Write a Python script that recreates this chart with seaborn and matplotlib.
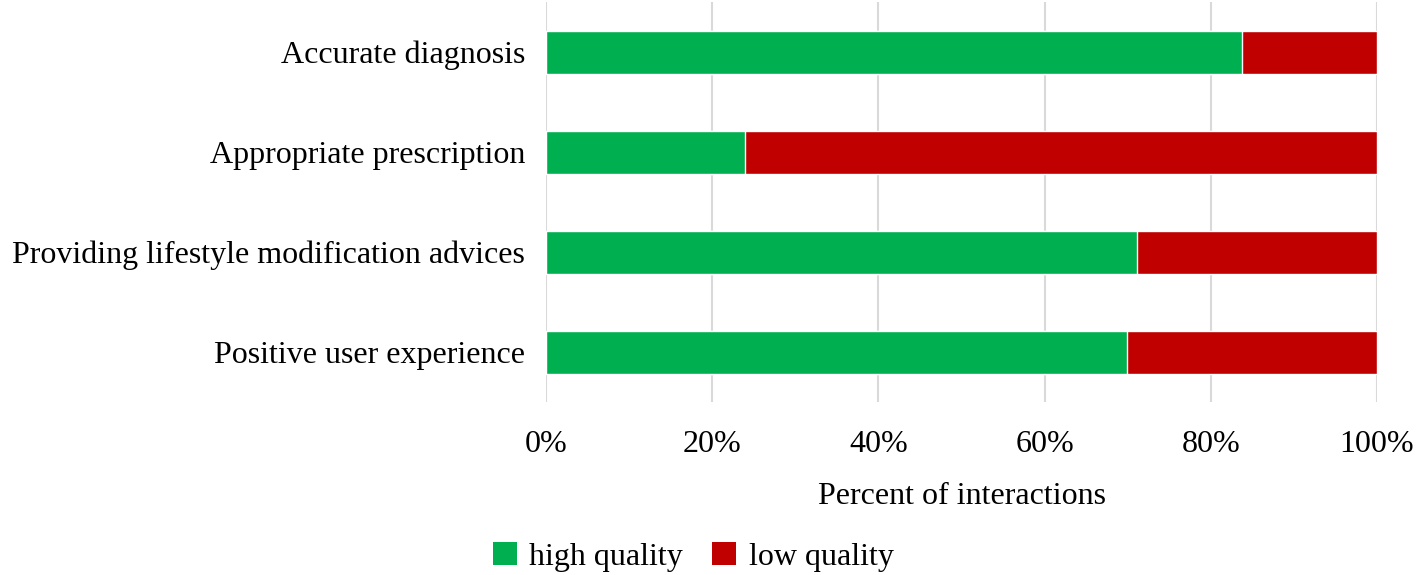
import matplotlib
matplotlib.use("Agg")
import matplotlib.pyplot as plt
import seaborn as sns
import pandas as pd
from matplotlib.patches import Patch
from matplotlib.ticker import PercentFormatter

categories = ["Accurate diagnosis", "Appropriate prescription",
              "Providing lifestyle modification advices", "Positive user experience"]
high_quality = [83.7, 23.9, 71.1, 69.9]
low_quality = [16.3, 76.1, 28.9, 30.1]
series_names = ["high quality", "low quality"]
colors = ["#00B050", "#C00000"]

df = pd.DataFrame({"category": categories,
                   "high": high_quality,
                   "total": [h + l for h, l in zip(high_quality, low_quality)]})

sns.set_theme(style="white")
plt.rcParams["font.family"] = ["Liberation Serif", "DejaVu Serif"]
plt.rcParams["text.color"] = "black"
plt.rcParams["axes.labelcolor"] = "black"

FS = 23

fig = plt.figure(figsize=(14.16, 5.75), dpi=100)
ax = fig.add_axes([546 / 1416, 1 - 402 / 575, (1377 - 546) / 1416, 400 / 575])

sns.barplot(data=df, y="category", x="total", color=colors[1], width=0.43,
            ax=ax, orient="h", saturation=1, zorder=3)
sns.barplot(data=df, y="category", x="high", color=colors[0], width=0.43,
            ax=ax, orient="h", saturation=1, zorder=4)

ax.set_xlim(0, 100)
ax.set_ylim(3.5, -0.5)
ax.set_xticks([0, 20, 40, 60, 80, 100])
ax.xaxis.set_major_formatter(PercentFormatter(decimals=0))
ax.grid(axis="x", color="#D9D9D9", linewidth=1.5, zorder=0)
ax.grid(axis="y", visible=False)
for s in ax.spines.values():
    s.set_visible(False)
ax.tick_params(axis="both", length=0, labelsize=FS, colors="#000000")
ax.tick_params(axis="x", pad=20)
ax.tick_params(axis="y", pad=15)
ax.set_ylabel("")
ax.set_xlabel("Percent of interactions", fontsize=FS, labelpad=17, color="black")

handles = [Patch(facecolor=c, edgecolor="none") for c in colors]
leg = fig.legend(handles, series_names, loc="center", bbox_to_anchor=(693 / 1416, 1 - 557 / 575),
                 ncol=2, frameon=False, fontsize=FS, handlelength=0.75, handleheight=0.75,
                 handletextpad=0.4, columnspacing=0.9)
for t in leg.get_texts():
    t.set_color("black")

fig.savefig("out.png", dpi=100)
